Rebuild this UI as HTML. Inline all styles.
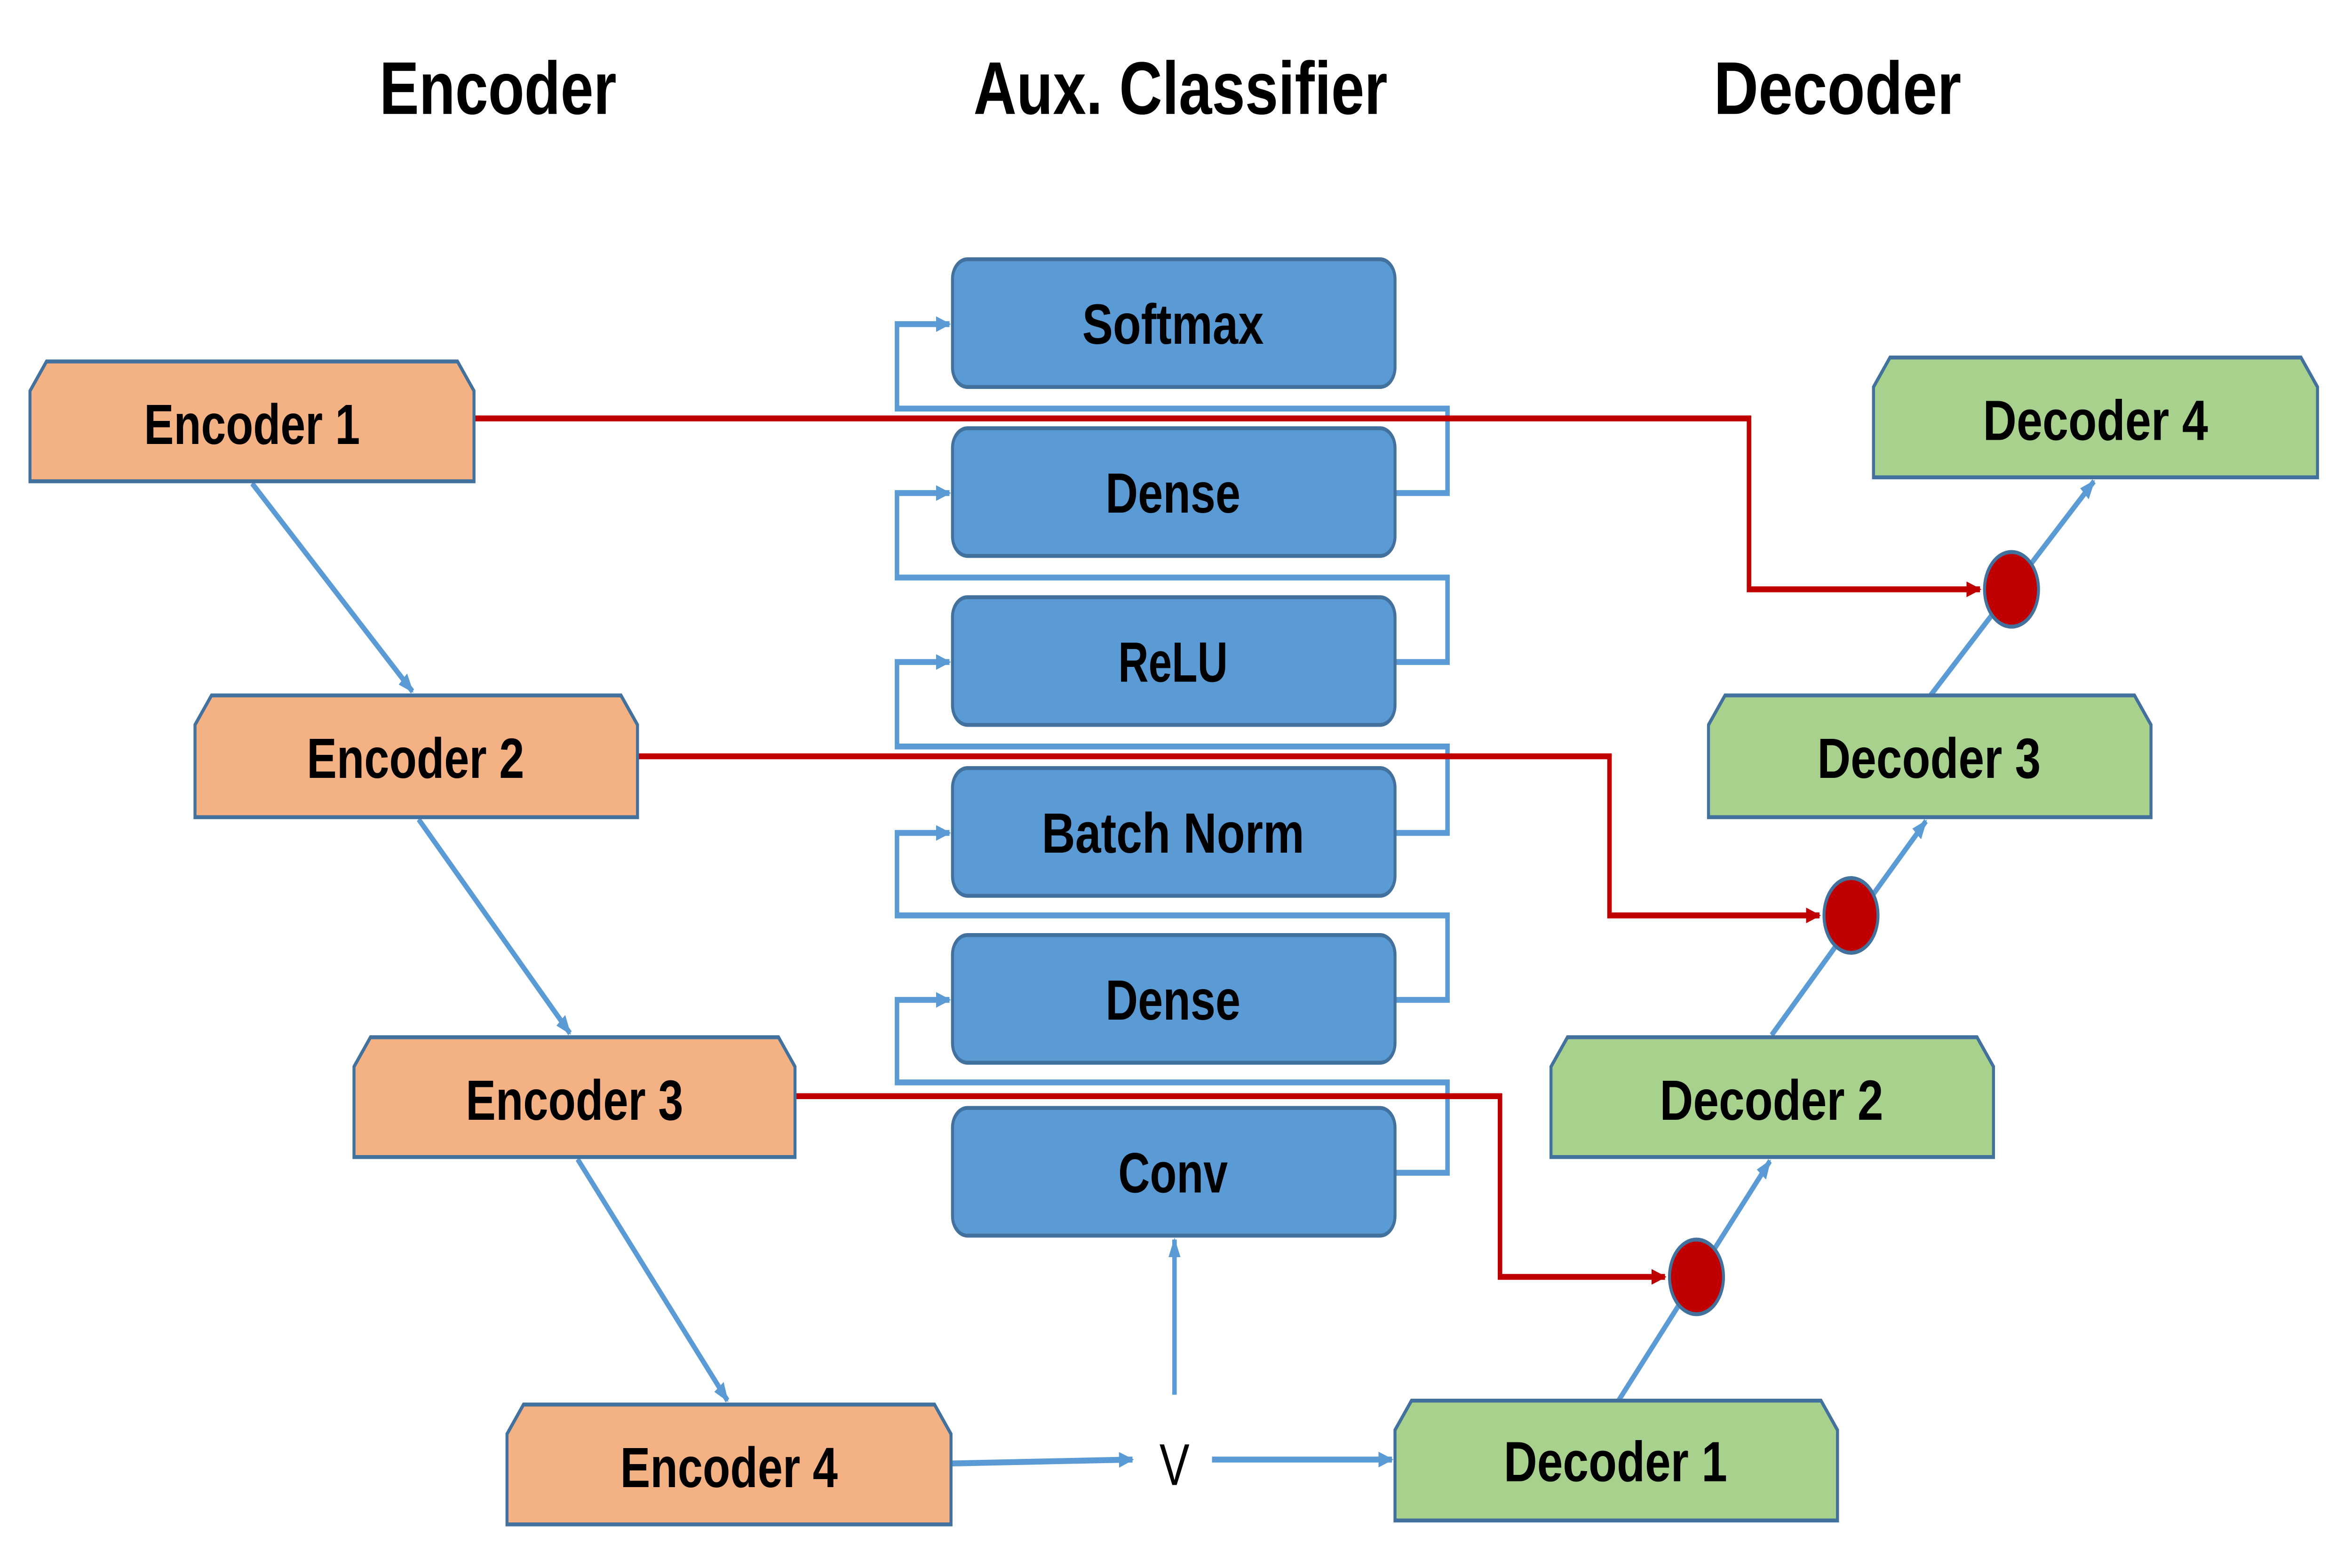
<!DOCTYPE html>
<html><head><meta charset="utf-8"><style>
html,body{margin:0;padding:0;background:#fff;width:100%;height:100%;overflow:hidden;}
svg{display:block;position:absolute;left:0;top:0;width:100vw;height:100vh;}
text{font-family:"Liberation Sans",sans-serif;font-weight:bold;fill:#000;}
</style></head><body>
<svg viewBox="0 0 1568 798.2" preserveAspectRatio="none" xmlns="http://www.w3.org/2000/svg">
<defs>
<marker id="ab" markerWidth="10" markerHeight="8" refX="9" refY="4" orient="auto" markerUnits="userSpaceOnUse"><path d="M0,0 L10,4 L0,8 Z" fill="#5B9BD5"/></marker>
<marker id="ar" markerWidth="10" markerHeight="8" refX="9" refY="4" orient="auto" markerUnits="userSpaceOnUse"><path d="M0,0 L10,4 L0,8 Z" fill="#C00000"/></marker>
</defs>
<text x="332" y="58" font-size="38" text-anchor="middle" textLength="158" lengthAdjust="spacingAndGlyphs">Encoder</text>
<text x="787" y="58" font-size="38" text-anchor="middle" textLength="276" lengthAdjust="spacingAndGlyphs">Aux. Classifier</text>
<text x="1225" y="58" font-size="38" text-anchor="middle" textLength="165" lengthAdjust="spacingAndGlyphs">Decoder</text>

<g fill="none" stroke="#5B9BD5" stroke-width="3">
<path d="M930,251 H965 V208 H598 V165 H633" marker-end="url(#ab)"/>
<path d="M930,337 H965 V294 H598 V251 H633" marker-end="url(#ab)"/>
<path d="M930,424 H965 V380 H598 V337 H633" marker-end="url(#ab)"/>
<path d="M930,509 H965 V466 H598 V424 H633" marker-end="url(#ab)"/>
<path d="M930,597 H965 V551 H598 V509 H633" marker-end="url(#ab)"/>
</g>

<g fill="none" stroke="#C00000" stroke-width="3">
<path d="M316,213 H1166 V300 H1320" marker-end="url(#ar)"/>
<path d="M425,385 H1073 V466 H1213" marker-end="url(#ar)"/>
<path d="M530,558 H1000 V650 H1110" marker-end="url(#ar)"/>
</g>

<g fill="#5B9BD5" stroke="#41719C" stroke-width="2">
<rect x="635" y="132" width="295" height="65" rx="10"/>
<rect x="635" y="218" width="295" height="65" rx="10"/>
<rect x="635" y="304" width="295" height="65" rx="10"/>
<rect x="635" y="391" width="295" height="65" rx="10"/>
<rect x="635" y="476" width="295" height="65" rx="10"/>
<rect x="635" y="564" width="295" height="65" rx="10"/>
</g>
<g font-size="29" text-anchor="middle">
<text x="782" y="175" textLength="121" lengthAdjust="spacingAndGlyphs">Softmax</text>
<text x="782" y="261" textLength="90" lengthAdjust="spacingAndGlyphs">Dense</text>
<text x="782" y="347" textLength="73" lengthAdjust="spacingAndGlyphs">ReLU</text>
<text x="782" y="434" textLength="175" lengthAdjust="spacingAndGlyphs">Batch Norm</text>
<text x="782" y="519" textLength="90" lengthAdjust="spacingAndGlyphs">Dense</text>
<text x="782" y="607" textLength="73" lengthAdjust="spacingAndGlyphs">Conv</text>
</g>

<g fill="none" stroke="#5B9BD5" stroke-width="3">
<line x1="168" y1="246" x2="275" y2="352" marker-end="url(#ab)"/>
<line x1="279" y1="417" x2="380" y2="526" marker-end="url(#ab)"/>
<line x1="385" y1="590" x2="485" y2="713" marker-end="url(#ab)"/>
<line x1="634" y1="745" x2="755" y2="743" marker-end="url(#ab)"/>
<line x1="808" y1="743" x2="928" y2="743" marker-end="url(#ab)"/>
<line x1="783" y1="710" x2="783" y2="631" marker-end="url(#ab)"/>
<line x1="1079" y1="713" x2="1180" y2="591" marker-end="url(#ab)"/>
<line x1="1181" y1="527" x2="1284" y2="418" marker-end="url(#ab)"/>
<line x1="1287" y1="354" x2="1396" y2="245" marker-end="url(#ab)"/>
</g>
<text x="783" y="756" font-size="30" text-anchor="middle" style="font-weight:normal">V</text>

<g fill="#C00000" stroke="#41719C" stroke-width="2">
<ellipse cx="1341" cy="300" rx="18" ry="19"/>
<ellipse cx="1234" cy="466" rx="18" ry="19"/>
<ellipse cx="1131" cy="650" rx="18" ry="19"/>
</g>

<g fill="#F4B183" stroke="#41719C" stroke-width="2">
<path d="M31,184 H305 L316,199 V245 H20 V199 Z"/>
<path d="M141,354 H414 L425,369 V416 H130 V369 Z"/>
<path d="M247,528 H519 L530,543 V589 H236 V543 Z"/>
<path d="M349,715 H623 L634,730 V776 H338 V730 Z"/>
</g>
<g fill="#A9D18E" stroke="#41719C" stroke-width="2">
<path d="M1260,182 H1534 L1545,197 V243 H1249 V197 Z"/>
<path d="M1150,354 H1423 L1434,369 V416 H1139 V369 Z"/>
<path d="M1045,528 H1318 L1329,543 V589 H1034 V543 Z"/>
<path d="M941,713 H1214 L1225,728 V774 H930 V728 Z"/>
</g>
<g font-size="29" text-anchor="middle">
<text x="168" y="226" textLength="144" lengthAdjust="spacingAndGlyphs">Encoder 1</text>
<text x="277" y="396" textLength="145" lengthAdjust="spacingAndGlyphs">Encoder 2</text>
<text x="383" y="570" textLength="145" lengthAdjust="spacingAndGlyphs">Encoder 3</text>
<text x="486" y="757" textLength="145" lengthAdjust="spacingAndGlyphs">Encoder 4</text>
<text x="1397" y="224" textLength="150" lengthAdjust="spacingAndGlyphs">Decoder 4</text>
<text x="1286" y="396" textLength="149" lengthAdjust="spacingAndGlyphs">Decoder 3</text>
<text x="1181" y="570" textLength="149" lengthAdjust="spacingAndGlyphs">Decoder 2</text>
<text x="1077" y="754" textLength="149" lengthAdjust="spacingAndGlyphs">Decoder 1</text>
</g>
</svg>
</body></html>
